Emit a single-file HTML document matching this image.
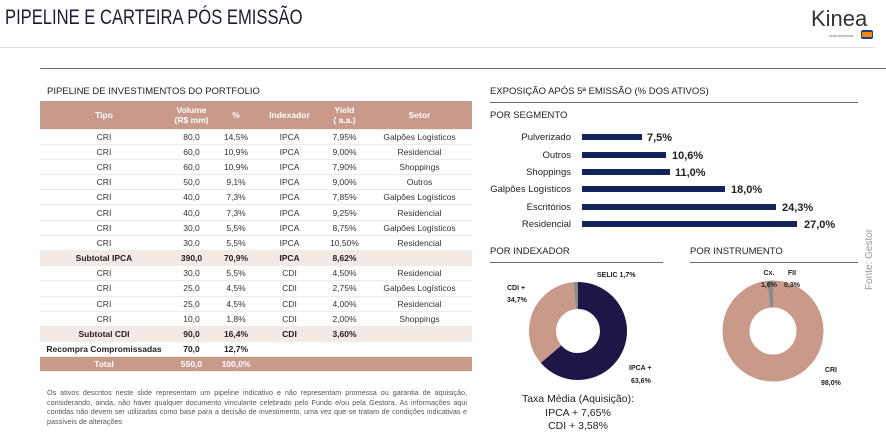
<!DOCTYPE html>
<html><head><meta charset="utf-8"><style>
*{margin:0;padding:0;box-sizing:border-box}
body{width:886px;height:437px;background:#fff;position:relative;overflow:hidden;font-family:"Liberation Sans",sans-serif;color:#222}
.a{position:absolute;white-space:nowrap}
table{position:absolute;left:40px;top:101px;width:432px;border-collapse:collapse;font-size:8.5px;color:#333}
td{text-align:center;height:15.2px;padding:0;border-bottom:1px solid #f1ebe8}
tr.h td{background:#c9998a;color:#fff;font-weight:bold;height:28px;line-height:10px;font-size:8.5px}
tr.s td{background:#f3e9e5;font-weight:bold;color:#222}
tr.r td{font-weight:bold;color:#222}
tr.t td{background:#c9998a;color:#fff;font-weight:bold;height:15px}
.bl{position:absolute;left:582px;height:6px;background:#13235b}
.lb{position:absolute;right:315px;font-size:9.5px;color:#222;line-height:12px}
.vl{position:absolute;font-size:11px;font-weight:bold;color:#222;line-height:12px}
</style></head><body>
<div class="a" style="left:5px;top:6px;font-size:21px;color:#1b1e33;transform:scaleX(0.79);transform-origin:left top">PIPELINE E CARTEIRA PÓS EMISSÃO</div>
<div class="a" style="left:811px;top:6px;font-size:22px;color:#333;font-weight:300">Kinea</div>
<div class="a" style="left:829px;top:33px;font-size:4px;color:#666">uma empresa</div>
<div class="a" style="left:861px;top:30px;width:12px;height:9px;background:#1d3f8a;border-radius:2px"><div style="margin:2px 1px;height:5px;background:#f08a00"></div></div>
<div class="a" style="left:0;top:47px;width:875px;height:1px;background:#ddd"></div>
<div class="a" style="left:40px;top:68px;width:846px;height:1px;background:#6b7078"></div>
<div class="a" style="left:47px;top:86px;font-size:9.5px;color:#222">PIPELINE DE INVESTIMENTOS DO PORTFOLIO</div>
<table>
<colgroup><col style="width:128px"><col style="width:47px"><col style="width:42px"><col style="width:65px"><col style="width:45px"><col></colgroup>
<tr class="h"><td>Tipo</td><td>Volume<br>(R$ mm)</td><td>%</td><td>Indexador</td><td>Yield<br>( a.a.)</td><td>Setor</td></tr>
<tr><td>CRI</td><td>80,0</td><td>14,5%</td><td>IPCA</td><td>7,95%</td><td>Galpões Logísticos</td></tr>
<tr><td>CRI</td><td>60,0</td><td>10,9%</td><td>IPCA</td><td>9,00%</td><td>Residencial</td></tr>
<tr><td>CRI</td><td>60,0</td><td>10,9%</td><td>IPCA</td><td>7,90%</td><td>Shoppings</td></tr>
<tr><td>CRI</td><td>50,0</td><td>9,1%</td><td>IPCA</td><td>9,00%</td><td>Outros</td></tr>
<tr><td>CRI</td><td>40,0</td><td>7,3%</td><td>IPCA</td><td>7,85%</td><td>Galpões Logísticos</td></tr>
<tr><td>CRI</td><td>40,0</td><td>7,3%</td><td>IPCA</td><td>9,25%</td><td>Residencial</td></tr>
<tr><td>CRI</td><td>30,0</td><td>5,5%</td><td>IPCA</td><td>8,75%</td><td>Galpões Logísticos</td></tr>
<tr><td>CRI</td><td>30,0</td><td>5,5%</td><td>IPCA</td><td>10,50%</td><td>Residencial</td></tr>
<tr class="s"><td>Subtotal IPCA</td><td>390,0</td><td>70,9%</td><td>IPCA</td><td>8,62%</td><td></td></tr>
<tr><td>CRI</td><td>30,0</td><td>5,5%</td><td>CDI</td><td>4,50%</td><td>Residencial</td></tr>
<tr><td>CRI</td><td>25,0</td><td>4,5%</td><td>CDI</td><td>2,75%</td><td>Galpões Logísticos</td></tr>
<tr><td>CRI</td><td>25,0</td><td>4,5%</td><td>CDI</td><td>4,00%</td><td>Residencial</td></tr>
<tr><td>CRI</td><td>10,0</td><td>1,8%</td><td>CDI</td><td>2,00%</td><td>Shoppings</td></tr>
<tr class="s"><td>Subtotal CDI</td><td>90,0</td><td>16,4%</td><td>CDI</td><td>3,60%</td><td></td></tr>
<tr class="r"><td>Recompra Compromissadas</td><td>70,0</td><td>12,7%</td><td></td><td></td><td></td></tr>
<tr class="t"><td>Total</td><td>550,0</td><td>100,0%</td><td></td><td></td><td></td></tr>
</table>
<div class="a" style="left:47px;top:388px;width:420px;white-space:normal;font-size:7.2px;line-height:9.5px;color:#555;text-align:justify">Os ativos descritos neste slide representam um pipeline indicativo e não representam promessa ou garantia de aquisição, considerando, ainda, não haver qualquer documento vinculante celebrado pelo Fundo e/ou pela Gestora. As informações aqui contidas não devem ser utilizadas como base para a decisão de investimento, uma vez que se tratam de condições indicativas e passíveis de alterações</div>

<div class="a" style="left:490px;top:86px;font-size:9.5px">EXPOSIÇÃO APÓS 5ª EMISSÃO (% DOS ATIVOS)</div>
<div class="a" style="left:490px;top:102px;width:368px;height:1px;background:#6b7078"></div>
<div class="a" style="left:490px;top:110px;font-size:9.5px">POR SEGMENTO</div>
<div class="lb" style="top:132px">Pulverizado</div><div class="bl" style="top:134px;width:60px"></div><div class="vl" style="left:647px;top:132px">7,5%</div>
<div class="lb" style="top:150px">Outros</div><div class="bl" style="top:152px;width:84px"></div><div class="vl" style="left:672px;top:150px">10,6%</div>
<div class="lb" style="top:167px">Shoppings</div><div class="bl" style="top:169px;width:88px"></div><div class="vl" style="left:675px;top:167px">11,0%</div>
<div class="lb" style="top:184px">Galpões Logísticos</div><div class="bl" style="top:186px;width:143px"></div><div class="vl" style="left:731px;top:184px">18,0%</div>
<div class="lb" style="top:202px">Escritórios</div><div class="bl" style="top:204px;width:194px"></div><div class="vl" style="left:782px;top:202px">24,3%</div>
<div class="lb" style="top:219px">Residencial</div><div class="bl" style="top:221px;width:215px"></div><div class="vl" style="left:804px;top:219px">27,0%</div>

<div class="a" style="left:490px;top:246px;font-size:9.5px">POR INDEXADOR</div>
<div class="a" style="left:490px;top:262px;width:173px;height:1px;background:#6b7078"></div>
<div class="a" style="left:690px;top:246px;font-size:9.5px">POR INSTRUMENTO</div>
<div class="a" style="left:690px;top:262px;width:168px;height:1px;background:#6b7078"></div>
<div class="a" style="left:864px;top:290px;transform:rotate(-90deg);transform-origin:left top;font-size:10px;color:#999">Fonte: Gestor</div>

<svg class="a" style="left:0;top:0" width="886" height="437">
<g transform="translate(578,331) rotate(-90)" fill="none" stroke-width="27">
<circle r="35.5" stroke="#1e1646" stroke-dasharray="141.9 223.1"/>
<circle r="35.5" stroke="#c9998a" stroke-dasharray="0 141.9 77.4 223" />
<circle r="35.5" stroke="#8a8a8a" stroke-dasharray="0 219.3 3.8 10"/>
</g>
<g transform="translate(773,331) rotate(-90)" fill="none" stroke-width="27">
<circle r="37" stroke="#c9998a" stroke-dasharray="227.8 5"/>
<circle r="37" stroke="#8a8a8a" stroke-dasharray="0 227.8 4.5 10"/>
</g>
</svg>
<div class="a" style="left:507px;top:283px;font-size:7px;font-weight:bold;line-height:12px">CDI +<br>34,7%</div>
<div class="a" style="left:597px;top:272px;font-size:7px;font-weight:bold">SELIC 1,7%</div>
<div class="a" style="left:629px;top:362px;font-size:7px;font-weight:bold;line-height:13px">IPCA +<br>&nbsp;63,6%</div>
<div class="a" style="left:761px;top:268px;font-size:7px;font-weight:bold;line-height:12px;text-align:center">Cx.<br>1,6%</div>
<div class="a" style="left:784px;top:268px;font-size:7px;font-weight:bold;line-height:12px;text-align:center">FII<br>0,3%</div>
<div class="a" style="left:821px;top:364px;font-size:7px;font-weight:bold;line-height:13px;text-align:center">CRI<br>98,0%</div>
<div class="a" style="left:508px;top:393px;width:140px;text-align:center;font-size:10.5px;line-height:13.5px;color:#222">Taxa Média (Aquisição):<br>IPCA + 7,65%<br>CDI + 3,58%</div>
</body></html>
